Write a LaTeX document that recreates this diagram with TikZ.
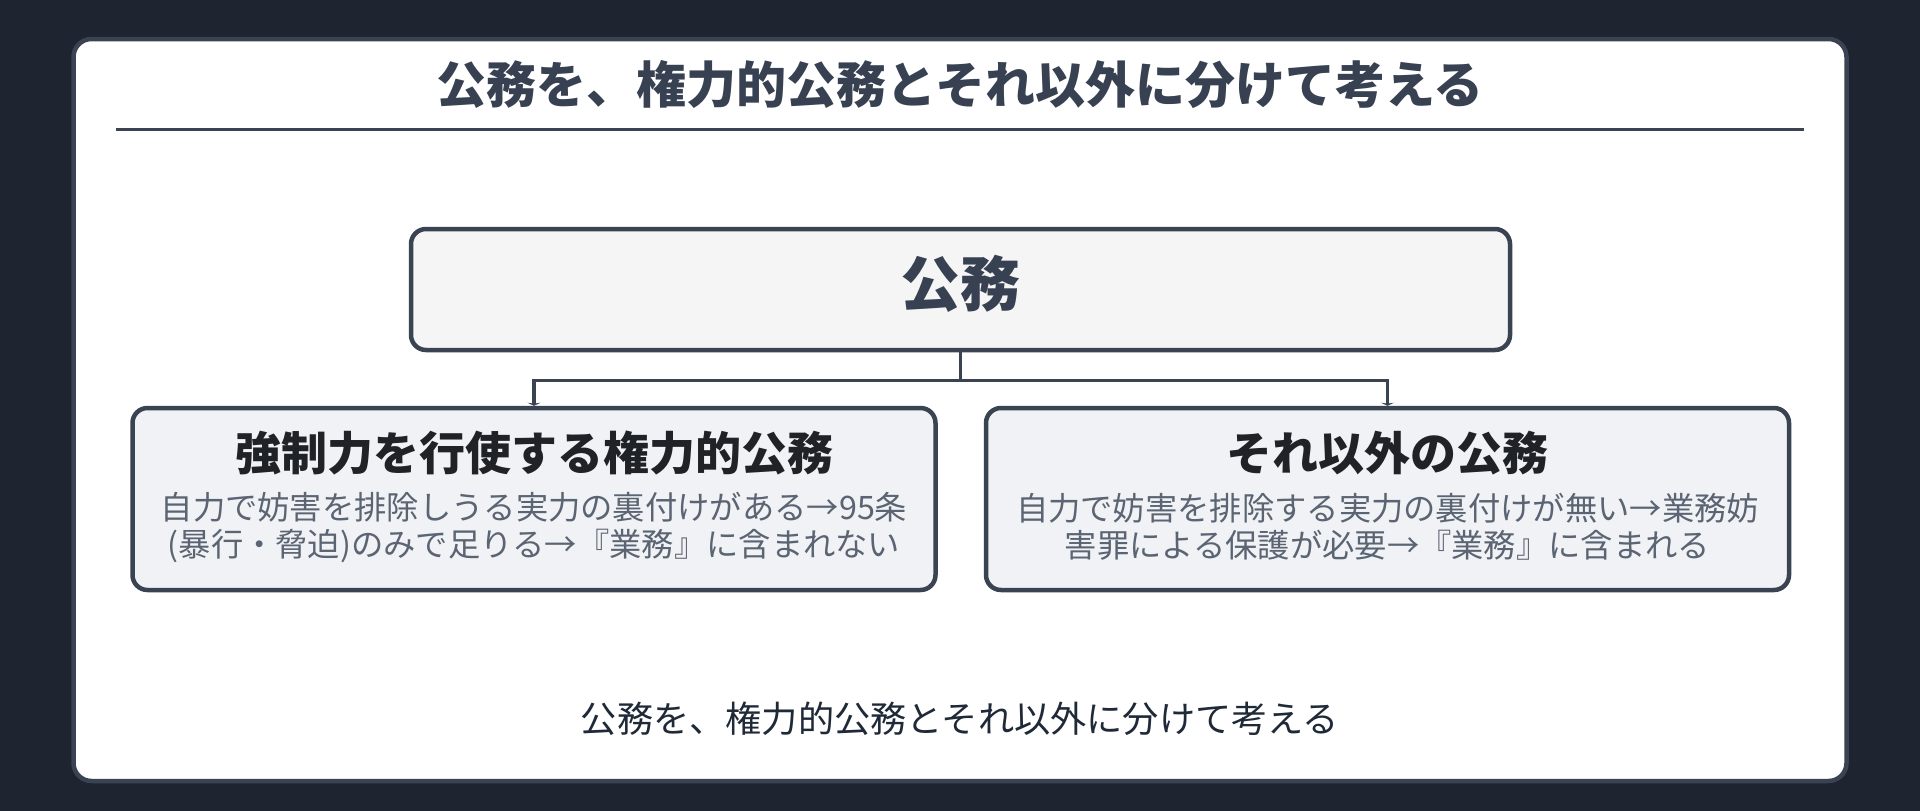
\documentclass[tikz,border=0pt]{standalone}
\usepackage{fontspec}
\setmainfont{Noto Sans CJK JP}
\usetikzlibrary{arrows.meta}
\definecolor{bgdark}{HTML}{1E2530}
\definecolor{edge}{HTML}{3A4352}
\definecolor{titlecol}{HTML}{374151}
\definecolor{headcol}{HTML}{1F2328}
\definecolor{bodycol}{HTML}{5B6472}
\definecolor{capcol}{HTML}{1F2937}
\definecolor{topfill}{HTML}{F5F5F5}
\definecolor{childfill}{HTML}{F0F2F5}
\tikzset{
  cardbox/.style={draw=edge, line width=4.5pt, fill=white, rounded corners=18pt, minimum width=1773pt, minimum height=742pt, inner sep=0pt},
  rootbox/.style={draw=edge, line width=4.5pt, fill=topfill, rounded corners=15pt, minimum width=1099pt, minimum height=121pt, inner sep=0pt},
  childbox/.style={draw=edge, line width=4.5pt, fill=childfill, rounded corners=15pt, minimum width=803pt, minimum height=182pt, inner sep=0pt},
  roottext/.style={font=\fontsize{60}{68}\selectfont\bfseries, text=titlecol, inner sep=0pt},
  headtext/.style={font=\fontsize{46}{54}\selectfont\bfseries, text=headcol, inner sep=0pt},
  bodytext/.style={font=\fontsize{32.3}{37}\selectfont, text=bodycol, inner sep=0pt, align=center},
  titletext/.style={font=\fontsize{50}{58}\selectfont\bfseries, text=titlecol, inner sep=0pt},
  captext/.style={font=\fontsize{36.2}{42}\selectfont, text=capcol, inner sep=0pt},
  conn/.style={draw=edge, line width=3.5pt, -{Stealth[length=3pt,width=13pt]}}
}
\begin{document}
\begin{tikzpicture}[x=1pt,y=-1pt]
\fill[bgdark] (0,0) rectangle (1920,811);
\useasboundingbox (0,0) rectangle (1920,811);
\node[cardbox] (card) at (960,410) {};
\node[titletext] (title) at (960,84.5) {公務を、権力的公務とそれ以外に分けて考える};
\coordinate (ruleL) at (116,129.5);
\coordinate (ruleR) at (1804,129.5);
\draw[edge, line width=3pt] (ruleL) -- (ruleR);
\node[rootbox] (root) at (960.5,289.5) {};
\node[roottext] (roottxt) at (960.5,284) {公務};
\node[childbox] (left) at (534,499) {};
\node[childbox] (right) at (1387.5,499) {};
\node[headtext] (lefthead) at (534,453.5) {強制力を行使する権力的公務};
\node[bodytext] (leftbody) at (534,527) {自力で妨害を排除しうる実力の裏付けがある→95条\\(暴行・脅迫)のみで足りる→『業務』に含まれない};
\node[headtext] (righthead) at (1387.5,453.5) {それ以外の公務};
\node[bodytext] (rightbody) at (1387.5,527) {自力で妨害を排除する実力の裏付けが無い→業務妨\\害罪による保護が必要→『業務』に含まれる};
\draw[conn] (root.south) -- ++(0,28) -| (left.north);
\draw[conn] (root.south) -- ++(0,28) -| (right.north);
\node[captext] (caption) at (960,719) {公務を、権力的公務とそれ以外に分けて考える};
\end{tikzpicture}
\end{document}
